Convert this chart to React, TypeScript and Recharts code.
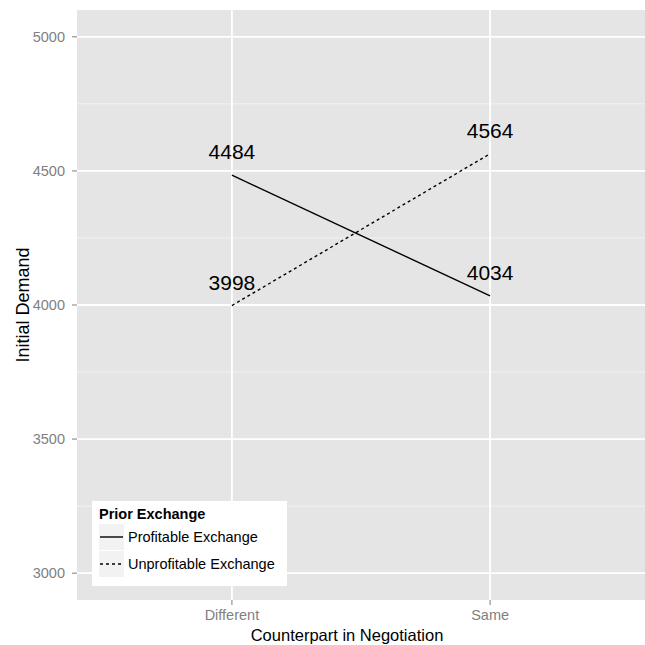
import React from "react";
import {
  LineChart,
  Line,
  XAxis,
  YAxis,
  CartesianGrid,
  Legend,
  LabelList,
  Label,
} from "recharts";

const categories = ["Different", "Same"];
const profitable = [4484, 4034];
const unprofitable = [3998, 4564];
const yTicks = [3000, 3500, 4000, 4500, 5000];
const yMinor = [3250, 3750, 4250, 4750];
const seriesNames = ["Profitable Exchange", "Unprofitable Exchange"];
const legendTitle = "Prior Exchange";
const xTitle = "Counterpart in Negotiation";
const yTitle = "Initial Demand";

const FONT = '"Liberation Sans", Arial, Helvetica, sans-serif';

const data = categories.map((c, i) => ({
  x: i + 1,
  cat: c,
  profitable: profitable[i],
  unprofitable: unprofitable[i],
}));

const LegendBox = (props: any) => {
  const payload = props.payload || [];
  return (
    <div
      style={{
        background: "#fff",
        width: 195,
        height: 85,
        boxSizing: "border-box",
        padding: "5px 7px",
        fontFamily: FONT,
      }}
    >
      <div style={{ fontWeight: "bold", fontSize: 14.5, lineHeight: "17px", color: "#000" }}>
        {legendTitle}
      </div>
      {payload.map((p: any, i: number) => (
        <div key={i} style={{ display: "flex", alignItems: "center", height: 27 }}>
          <svg width={26} height={26} style={{ display: "block" }}>
            <rect x={0} y={0} width={25} height={26} fill="#F2F2F2" />
            <line
              x1={1}
              x2={24}
              y1={13}
              y2={13}
              stroke="#000"
              strokeWidth={1.4}
              strokeDasharray={p.payload && p.payload.strokeDasharray ? "3 3" : undefined}
            />
          </svg>
          <span style={{ marginLeft: 3, fontSize: 14.5, color: "#000" }}>{p.value}</span>
        </div>
      ))}
    </div>
  );
};

export default function App() {
  return (
    <div style={{ position: "absolute", left: 0, top: 0, width: 645, height: 645, background: "#fff" }}>
      <LineChart
        width={645}
        height={645}
        data={data}
        margin={{ top: 10, right: 0, bottom: 0, left: 0 }}
        style={{ fontFamily: FONT }}
      >
        <CartesianGrid
          fill="#E5E5E5"
          stroke="#F2F2F2"
          strokeWidth={1}
          vertical={false}
          horizontalValues={yMinor}
        />
        <CartesianGrid
          stroke="#FFFFFF"
          strokeWidth={1.8}
          horizontalValues={yTicks}
          verticalValues={[1, 2]}
        />
        <XAxis
          dataKey="x"
          type="number"
          domain={[0.4, 2.6]}
          ticks={[1, 2]}
          tickFormatter={(v: number) => categories[v - 1]}
          allowDataOverflow
          axisLine={false}
          tickLine={{ stroke: "#7F7F7F" }}
          tickSize={5}
          tickMargin={5}
          height={45}
          tick={{ fill: "#7F7F7F", fontSize: 14.5, fontFamily: FONT }}
        >
          <Label
            value={xTitle}
            position="insideBottom"
            offset={4}
            dx={-14}
            style={{ fontSize: 16.5, fill: "#000", fontFamily: FONT }}
          />
        </XAxis>
        <YAxis
          type="number"
          domain={[2900, 5100]}
          ticks={yTicks}
          allowDataOverflow
          axisLine={false}
          tickLine={{ stroke: "#7F7F7F" }}
          tickSize={5}
          tickMargin={7}
          width={77}
          tick={{ fill: "#7F7F7F", fontSize: 14.5, fontFamily: FONT }}
        >
          <Label
            content={(props: any) => {
              const vb = props.viewBox || {};
              const cy = (vb.y || 0) + (vb.height || 0) / 2;
              const cx = 28.5;
              return (
                <text
                  x={cx}
                  y={cy}
                  transform={`rotate(-90, ${cx}, ${cy})`}
                  textAnchor="middle"
                  fontSize={18}
                  fill="#000"
                  fontFamily={FONT}
                >
                  {yTitle}
                </text>
              );
            }}
          />
        </YAxis>
        <Legend
          layout="vertical"
          verticalAlign="middle"
          align="center"
          content={<LegendBox />}
          wrapperStyle={{ left: 92, top: 501, width: 195, height: 85 }}
        />
        <Line
          name={seriesNames[0]}
          dataKey="profitable"
          type="linear"
          stroke="#000"
          strokeWidth={1.4}
          dot={false}
          activeDot={false}
          isAnimationActive={false}
        >
          <LabelList dataKey="profitable" position="top" offset={16} style={{ fontSize: 21, fill: "#000", fontFamily: FONT }} />
        </Line>
        <Line
          name={seriesNames[1]}
          dataKey="unprofitable"
          type="linear"
          stroke="#000"
          strokeWidth={1.4}
          strokeDasharray="3 3"
          dot={false}
          activeDot={false}
          isAnimationActive={false}
        >
          <LabelList dataKey="unprofitable" position="top" offset={16} style={{ fontSize: 21, fill: "#000", fontFamily: FONT }} />
        </Line>
      </LineChart>
    </div>
  );
}
